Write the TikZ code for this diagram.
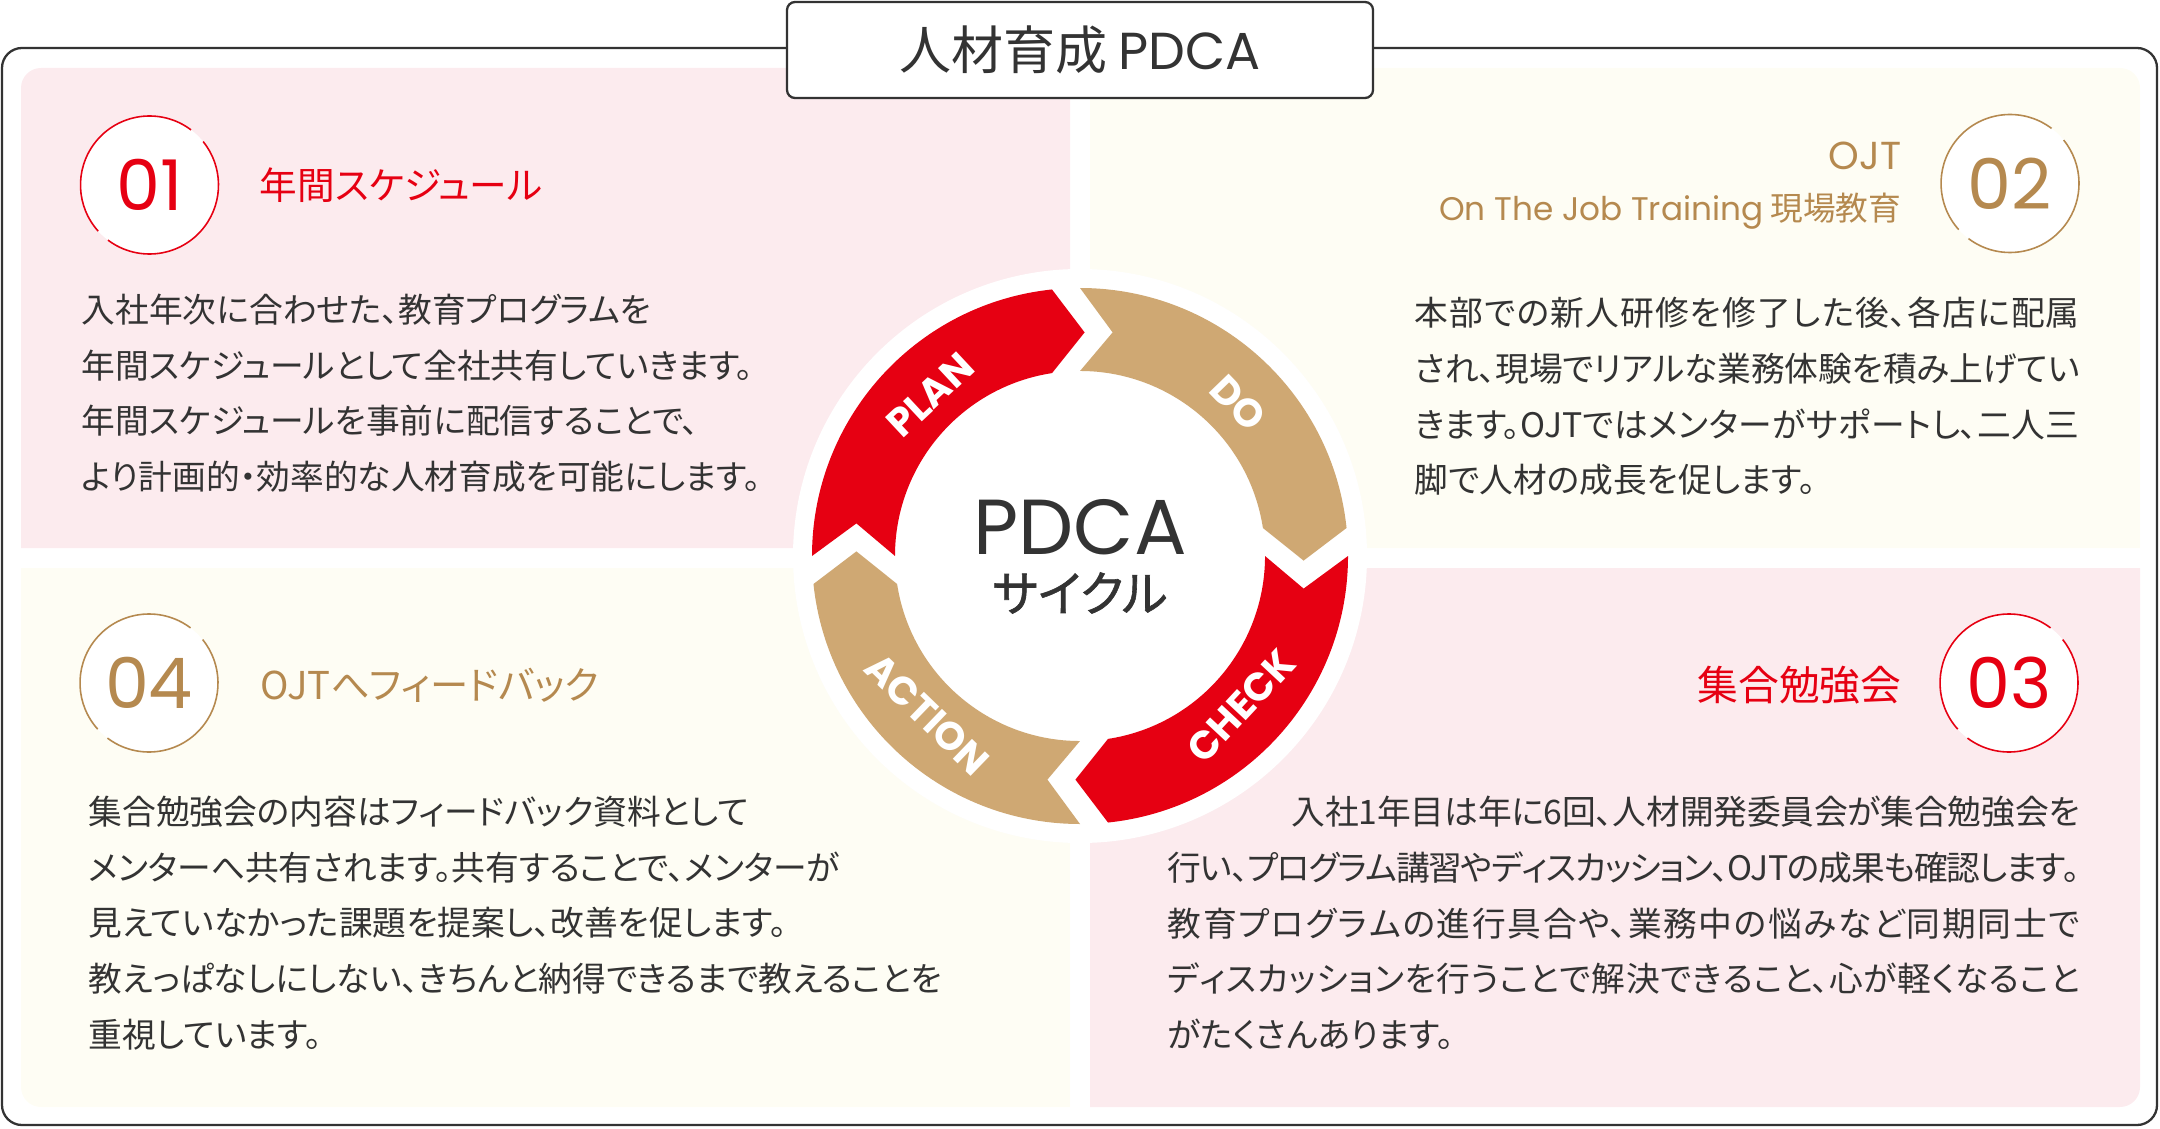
\documentclass[tikz,border=0pt]{standalone}
\usepackage{fontspec}
\setmainfont{Noto Sans CJK JP}[RawFeature=+palt]
\newfontfamily\popfont{Poppins}
\definecolor{pdcared}{HTML}{E60012}
\definecolor{ringgold}{HTML}{CFA873}
\definecolor{textgold}{HTML}{B5894F}
\definecolor{panelpink}{HTML}{FCEBEE}
\definecolor{panelcream}{HTML}{FEFDF4}
\definecolor{inkgray}{HTML}{333333}
\XeTeXlinebreaklocale "ja"
\XeTeXlinebreakskip=0pt plus 3pt minus 0.8pt
\setlength{\parindent}{0pt}

\begin{document}
\begin{tikzpicture}[x=1cm, y=1cm,
    bodytext/.style={inner sep=0pt, anchor=north west, text=inkgray, font=\fontsize{9.6pt}{15.9pt}\selectfont},
    headtext/.style={inner sep=0pt, font=\fontsize{11pt}{13pt}\selectfont},
    numring/.style={line width=0.45pt},
    ringlabel/.style={text=white, inner sep=0pt, font=\popfont\bfseries\fontsize{11.2pt}{12pt}\selectfont}]
  \useasboundingbox (0,0) rectangle (21.6,11.28);
  % Marco
  \draw[inkgray, line width=0.65pt, rounded corners=0.2cm] (0.02,0.03) rectangle (21.57,10.80);
  % Paneles
  \fill[panelpink] (0.21,5.80) -- (0.21,10.40) arc[start angle=180, end angle=90, radius=0.2] -- (10.70,10.60) -- (10.70,5.80) -- cycle;
  \fill[panelcream] (10.90,5.80) -- (10.90,10.60) -- (21.20,10.60) arc[start angle=90, end angle=0, radius=0.2] -- (21.40,5.80) -- cycle;
  \fill[panelpink] (10.90,0.21) -- (10.90,5.60) -- (21.40,5.60) -- (21.40,0.41) arc[start angle=0, end angle=-90, radius=0.2] -- cycle;
  \fill[panelcream] (0.41,0.21) arc[start angle=270, end angle=180, radius=0.2] -- (0.21,5.60) -- (10.70,5.60) -- (10.70,0.21) -- cycle;
  % Titulo
  \node[draw=inkgray, line width=0.65pt, fill=white, rounded corners=0.08cm, minimum width=5.86cm, minimum height=0.96cm, inner sep=0pt,
        text=inkgray, font=\fontsize{14.8pt}{16pt}\selectfont] (title) at (10.80,10.78) {人材育成 {\popfont PDCA}};

  % Anillo PDCA
  \coordinate (ctr) at (10.80,5.72);
  \fill[white] (ctr) circle (2.87);
  \foreach \ang/\col in {90/pdcared, 0/ringgold, -90/pdcared, 180/ringgold}
    \fill[\col, shift={(ctr)}, rotate=\ang] (0,2.68) arc[start angle=90, end angle=6, radius=2.68] -- (2.236,-0.046)
      -- (1.829,0.28) arc[start angle=8.7, end angle=90, radius=1.85] -- (0.326,2.236) -- cycle;
  \node[ringlabel, rotate=43] (plan) at ([shift={(133:2.2)}]ctr) {PLAN};
  \node[ringlabel, rotate=-46] (do) at ([shift={(44:2.2)}]ctr) {DO};
  \node[ringlabel, rotate=47] (check) at ([shift={(-43:2.2)}]ctr) {CHECK};
  \node[ringlabel, rotate=-44] (action) at ([shift={(-134:2.2)}]ctr) {ACTION};
  \node[inner sep=0pt, text=inkgray, font=\popfont\fontsize{22.2pt}{24pt}\selectfont] (pdca) at (10.80,6.01) {PDCA};
  \node[inner sep=0pt, text=inkgray, font=\fontsize{13.8pt}{15pt}\selectfont\addfontfeatures{FakeBold=1.2}] (saikuru) at (10.80,5.35) {サイクル};

  % Numeros
  \foreach \nx/\ny/\num/\col in {1.495/9.43/01/pdcared, 20.10/9.445/02/textgold, 20.09/4.45/03/pdcared, 1.49/4.45/04/textgold}{
    \node[circle, fill=white, minimum size=1.38cm, inner sep=0pt, outer sep=0pt, text=\col,
          font=\popfont\fontsize{19.9pt}{22pt}\selectfont] (num\num) at (\nx,\ny) {\num};
    \draw[\col, numring] (num\num.53) arc[start angle=53, end angle=222, radius=0.69];
    \draw[\col, numring] (num\num.233) arc[start angle=233, end angle=399, radius=0.69];
  }

  % Encabezados
  \node[headtext, text=pdcared, anchor=west, font=\fontsize{10.7pt}{13pt}\selectfont] (head01) at (2.59,9.43) {年間スケジュール};
  \node[headtext, text=textgold, anchor=base east, font=\popfont\fontsize{11.1pt}{13pt}\selectfont] (head02a) at (19.02,9.587) {OJT};
  \node[headtext, text=textgold, anchor=base east, font=\fontsize{9.3pt}{11pt}\selectfont] (head02b) at (19.02,9.073) {{\popfont On The Job Training} 現場教育};
  \node[headtext, text=pdcared, anchor=east, font=\fontsize{11.6pt}{13pt}\selectfont] (head03) at (19.02,4.43) {集合勉強会};
  \node[headtext, text=textgold, anchor=west, font=\fontsize{10.9pt}{13pt}\selectfont] (head04) at (2.60,4.43) {OJTへフィードバック};

  % Textos
  \node[bodytext, align=left] (body01) at (0.81,8.35) {入社年次に合わせた、教育プログラムを\\
    年間スケジュールとして全社共有していきます。\\
    年間スケジュールを事前に配信することで、\\
    より計画的・効率的な人材育成を可能にします。};
  \node[bodytext, text width=6.65cm, align=justify] (body02) at (14.14,8.32) {本部での新人研修を修了した後、各店に配属\linebreak
    され、現場でリアルな業務体験を積み上げてい\linebreak
    きます。OJTではメンターがサポートし、二人三\linebreak
    脚で人材の成長を促します。};
  \node[bodytext, text width=9.12cm, align=justify] (body03) at (11.67,3.33) {\hspace*{1.24cm}入社1年目は年に6回、人材開発委員会が集合勉強会を\linebreak
    行い、プログラム講習やディスカッション、OJTの成果も確認します。\linebreak
    教育プログラムの進行具合や、業務中の悩みなど同期同士で\linebreak
    ディスカッションを行うことで解決できること、心が軽くなること\linebreak
    がたくさんあります。};
  \node[bodytext, align=left] (body04) at (0.88,3.33) {集合勉強会の内容はフィードバック資料として\\
    メンターへ共有されます。共有することで、メンターが\\
    見えていなかった課題を提案し、改善を促します。\\
    教えっぱなしにしない、きちんと納得できるまで教えることを\\
    重視しています。};
\end{tikzpicture}
\end{document}
